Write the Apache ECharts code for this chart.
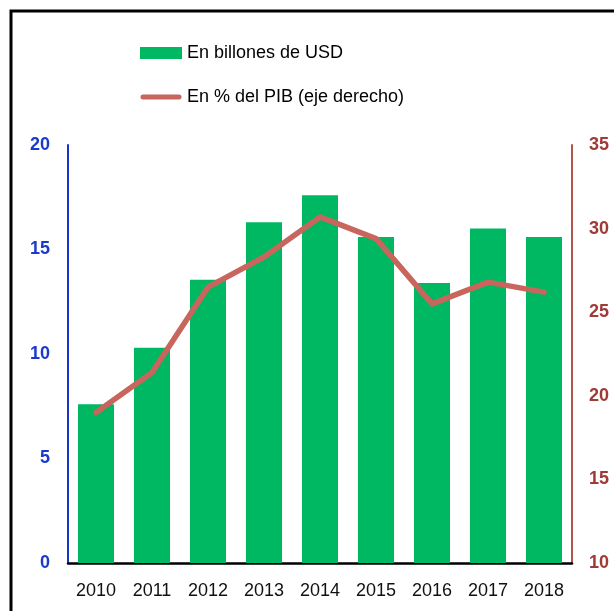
<!DOCTYPE html>
<html>
<head>
<meta charset="utf-8">
<script src="https://cdn.jsdelivr.net/npm/echarts@6/dist/echarts.min.js"></script>
<style>html,body{margin:0;padding:0;background:#fff;}#c{width:614px;height:611px;}</style>
</head>
<body>
<div id="c"></div>
<script>
const years = ['2010','2011','2012','2013','2014','2015','2016','2017','2018'];
const usdBillions = [7.6, 10.3, 13.55, 16.3, 17.6, 15.6, 13.4, 16.0, 15.6];
const pctGDP = [19.0, 21.4, 26.5, 28.3, 30.7, 29.4, 25.5, 26.8, 26.2];
const leftTicks = [0, 20, 5];
const rightTicks = [10, 35, 5];

const chart = echarts.init(document.getElementById('c'));
chart.setOption({
  animation: false,
  textStyle: { fontFamily: 'Liberation Sans, Arial, sans-serif' },
  graphic: [{
    type: 'rect', silent: true,
    shape: { x: 11, y: 11, width: 700, height: 700 },
    style: { fill: 'none', stroke: '#000', lineWidth: 3 }
  }],
  legend: {
    orient: 'vertical', left: 135, top: 39,
    itemWidth: 42, itemHeight: 12, itemGap: 26,
    textStyle: { fontSize: 18, color: '#000', fontFamily: 'Liberation Sans, Arial, sans-serif' },
    data: [
      { name: 'En billones de USD', icon: 'rect' },
      { name: 'En % del PIB (eje derecho)',
        icon: 'path://M0,0 M42,12 M3,3.5 L39,3.5 A2.5,2.5 0 0 1 39,8.5 L3,8.5 A2.5,2.5 0 0 1 3,3.5 Z',
        itemStyle: { color: '#c8655d', borderWidth: 0 } }
    ]
  },
  grid: { left: 68, right: 42, top: 145, bottom: 48, containLabel: false },
  xAxis: {
    type: 'category', data: years,
    axisLine: { lineStyle: { color: '#000', width: 2.5 } },
    axisTick: { show: false },
    axisLabel: { fontSize: 18, color: '#111', margin: 19 }
  },
  yAxis: [{
    type: 'value', min: leftTicks[0], max: leftTicks[1], interval: leftTicks[2],
    position: 'left',
    axisLine: { show: true, lineStyle: { color: '#1a33cc', width: 2 } },
    axisTick: { show: false },
    splitLine: { show: false },
    axisLabel: { fontSize: 18, fontWeight: 'bold', color: '#1a3acc', margin: 18 }
  }, {
    type: 'value', min: rightTicks[0], max: rightTicks[1], interval: rightTicks[2],
    position: 'right',
    axisLine: { show: true, lineStyle: { color: '#b0554f', width: 2 } },
    axisTick: { show: false },
    splitLine: { show: false },
    axisLabel: { fontSize: 18, fontWeight: 'bold', color: '#a03a36', margin: 17 }
  }],
  series: [{
    name: 'En billones de USD', type: 'bar', data: usdBillions,
    barWidth: 36, yAxisIndex: 0,
    itemStyle: { color: '#00b862' }
  }, {
    name: 'En % del PIB (eje derecho)', type: 'line', data: pctGDP,
    yAxisIndex: 1, symbol: 'none', z: 5,
    lineStyle: { color: '#c8655d', width: 5.5, cap: 'round', join: 'round' },
    itemStyle: { color: '#c8655d' }
  }]
});
</script>
</body>
</html>
